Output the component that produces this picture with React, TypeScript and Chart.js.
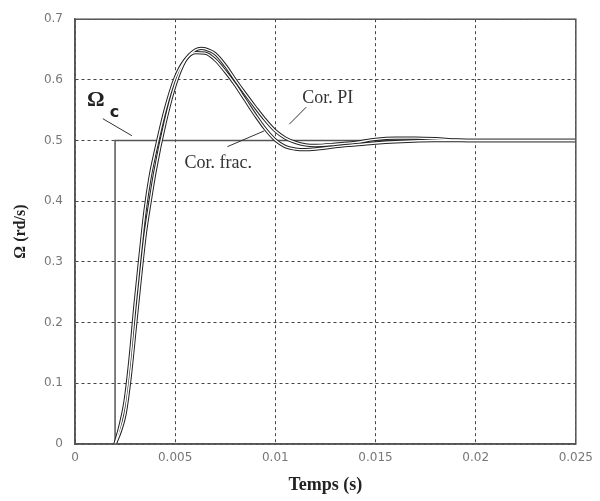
import React, { useEffect, useRef } from "react";
import { Chart, registerables } from "chart.js";

Chart.register(...registerables);

// Reference step (Omega_c)
const tRef = [0, 0.002, 0.002, 0.025];
const refValues = [0, 0, 0.5, 0.5];

// Response with PI corrector
const tPI = [0.002, 0.00225, 0.0025, 0.00275, 0.003, 0.00325, 0.0035, 0.00375, 0.004, 0.0045, 0.005, 0.0055, 0.006, 0.0063, 0.0065, 0.007, 0.0075, 0.008, 0.0085, 0.009, 0.0095, 0.01, 0.0105, 0.011, 0.0115, 0.012, 0.013, 0.014, 0.015, 0.016, 0.017, 0.018, 0.019, 0.02, 0.025];
const piValues = [0, 0.02, 0.05, 0.11, 0.19, 0.27, 0.345, 0.4, 0.45, 0.53, 0.592, 0.632, 0.649, 0.652, 0.651, 0.643, 0.624, 0.6, 0.577, 0.555, 0.534, 0.516, 0.504, 0.497, 0.493, 0.492, 0.494, 0.497, 0.502, 0.504, 0.504, 0.503, 0.501, 0.5, 0.5];

// Response with fractional corrector
const tFrac = [0.002, 0.00225, 0.0025, 0.00275, 0.003, 0.00325, 0.0035, 0.00375, 0.004, 0.0045, 0.005, 0.0055, 0.006, 0.0065, 0.007, 0.0075, 0.008, 0.0085, 0.009, 0.0095, 0.01, 0.0105, 0.011, 0.0115, 0.012, 0.013, 0.014, 0.015, 0.016, 0.018, 0.02, 0.025];
const fracValues = [0, 0.03, 0.07, 0.14, 0.23, 0.31, 0.385, 0.44, 0.48, 0.55, 0.603, 0.633, 0.645, 0.644, 0.633, 0.614, 0.592, 0.567, 0.542, 0.519, 0.501, 0.49, 0.486, 0.485, 0.486, 0.49, 0.493, 0.496, 0.498, 0.5, 0.5, 0.5];

// Axis ticks
const xTicks = [0, 0.005, 0.01, 0.015, 0.02, 0.025];
const xTickLabels = ["0", "0.005", "0.01", "0.015", "0.02", "0.025"];
const yTicks = [0, 0.1, 0.2, 0.3, 0.4, 0.5, 0.6, 0.7];
const yTickLabels = ["0", "0.1", "0.2", "0.3", "0.4", "0.5", "0.6", "0.7"];

const xTitle = "Temps (s)";
const yTitle = "Ω (rd/s)";

// Annotations (data coordinates)
const omegaLabel = { text: "Ω", sub: "c", x: 0.0006, y: 0.557, subX: 0.00174, subY: 0.539 };
const omegaLeader = [0.00139, 0.536, 0.00284, 0.508];
const piLabel = { text: "Cor. PI", x: 0.01134, y: 0.562 };
const piLeader = [0.01154, 0.555, 0.0107, 0.527];
const fracLabel = { text: "Cor. frac.", x: 0.00547, y: 0.454 };
const fracLeader = [0.00761, 0.49, 0.00945, 0.516];

const toPts = (xs: number[], ys: number[]) => xs.map((x, i) => ({ x, y: ys[i] }));

const annotationPlugin = {
  id: "annotations",
  afterDraw(chart: any) {
    const { ctx, chartArea, scales } = chart;
    const xs = scales.x;
    const ys = scales.y;
    const px = (v: number) => xs.getPixelForValue(v);
    const py = (v: number) => ys.getPixelForValue(v);
    ctx.save();
    // box
    ctx.strokeStyle = "#555";
    ctx.lineWidth = 1.5;
    ctx.setLineDash([]);
    ctx.strokeRect(chartArea.left, chartArea.top, chartArea.right - chartArea.left, chartArea.bottom - chartArea.top);

    // leaders
    ctx.strokeStyle = "#333";
    ctx.lineWidth = 1;
    [omegaLeader, piLeader, fracLeader].forEach((l) => {
      ctx.beginPath();
      ctx.moveTo(px(l[0]), py(l[1]));
      ctx.lineTo(px(l[2]), py(l[3]));
      ctx.stroke();
    });

    ctx.fillStyle = "#222";
    ctx.textAlign = "left";
    ctx.textBaseline = "alphabetic";
    ctx.font = "bold 22px 'Liberation Serif', serif";
    ctx.fillText(omegaLabel.text, px(omegaLabel.x), py(omegaLabel.y));
    ctx.font = "bold 16px 'DejaVu Sans', sans-serif";
    ctx.fillText(omegaLabel.sub, px(omegaLabel.subX), py(omegaLabel.subY));

    ctx.font = "18px 'Liberation Serif', serif";
    ctx.fillStyle = "#333";
    ctx.fillText(piLabel.text, px(piLabel.x), py(piLabel.y));
    ctx.fillText(fracLabel.text, px(fracLabel.x), py(fracLabel.y));
    ctx.restore();
  },
};

export default function App() {
  const canvasRef = useRef<HTMLCanvasElement | null>(null);

  useEffect(() => {
    document.body.style.margin = "0";
    const canvas = canvasRef.current;
    if (!canvas) return;
    const curve = (label: string, pts: any[], w: number, color: string, order: number) => ({
      label,
      data: pts,
      borderColor: color,
      borderWidth: w,
      pointRadius: 0,
      fill: false,
      order,
      cubicInterpolationMode: "monotone" as const,
    });
    const chart = new Chart(canvas, {
      type: "line",
      data: {
        datasets: [
          {
            label: "Ωc",
            data: toPts(tRef, refValues),
            borderColor: "#555",
            borderWidth: 1.5,
            pointRadius: 0,
            tension: 0,
            fill: false,
            order: 3,
          },
          curve("Cor. PI", toPts(tPI, piValues), 3.4, "#222", 2),
          curve("Cor. frac.", toPts(tFrac, fracValues), 3.4, "#222", 2),
          curve("Cor. PI inner", toPts(tPI, piValues), 1.4, "#fff", 1),
          curve("Cor. frac. inner", toPts(tFrac, fracValues), 1.4, "#fff", 1),
        ],
      },
      options: {
        responsive: false,
        animation: false,
        events: [],
        layout: { padding: { top: 14, right: 22, left: 0, bottom: 0 } },
        plugins: {
          legend: { display: false },
          tooltip: { enabled: false },
        },
        scales: {
          x: {
            type: "linear",
            min: 0,
            max: 0.025,
            afterFit: (s: any) => {
              s.height = 57;
            },
            afterBuildTicks: (s: any) => {
              s.ticks = xTicks.map((v) => ({ value: v }));
            },
            ticks: {
              padding: 7,
              color: "#777",
              font: { family: "'DejaVu Sans', sans-serif", size: 12 },
              maxRotation: 0,
              callback: (v: any) => {
                const i = xTicks.findIndex((t) => Math.abs(t - Number(v)) < 1e-9);
                return i >= 0 ? xTickLabels[i] : "";
              },
            },
            grid: { color: "#444", lineWidth: 1, drawTicks: false },
            border: { display: true, color: "#555", width: 1.5, dash: [3, 3] },
            title: {
              display: true,
              text: xTitle,
              color: "#222",
              font: { family: "'Liberation Serif', serif", size: 18, weight: "bold" },
              padding: { top: 0, bottom: 5 },
            },
          },
          y: {
            type: "linear",
            min: 0,
            max: 0.7,
            afterFit: (s: any) => {
              s.width = 75;
            },
            afterBuildTicks: (s: any) => {
              s.ticks = yTicks.map((v) => ({ value: v }));
            },
            ticks: {
              padding: 12,
              color: "#777",
              font: { family: "'DejaVu Sans', sans-serif", size: 12 },
              callback: (v: any) => {
                const i = yTicks.findIndex((t) => Math.abs(t - Number(v)) < 1e-9);
                return i >= 0 ? yTickLabels[i] : "";
              },
            },
            grid: { color: "#444", lineWidth: 1, drawTicks: false },
            border: { display: true, color: "#555", width: 1.5, dash: [3, 3] },
            title: {
              display: true,
              text: yTitle,
              color: "#222",
              font: { family: "'Liberation Serif', serif", size: 16, weight: "bold" },
              padding: { top: 11, bottom: 0 },
            },
          },
        },
      },
      plugins: [annotationPlugin],
    });
    return () => chart.destroy();
  }, []);

  return (
    <div style={{ width: 600, height: 501, background: "#fff" }}>
      <canvas ref={canvasRef} width={600} height={501} style={{ display: "block" }} />
    </div>
  );
}
